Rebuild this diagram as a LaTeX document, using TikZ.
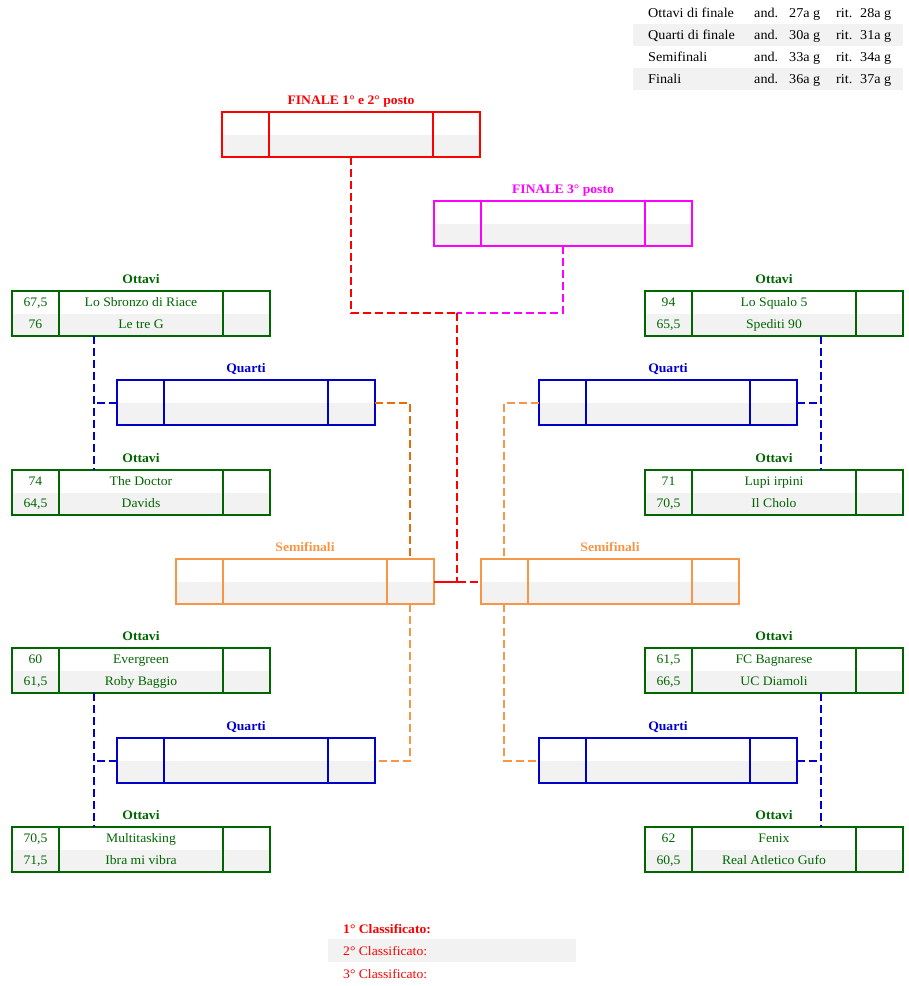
\documentclass[tikz,border=0pt]{standalone}
\usepackage{fontspec}
\setmainfont[FakeStretch=1.05]{Liberation Serif}
\usetikzlibrary{calc}
\definecolor{cgreen}{HTML}{006600}
\definecolor{cblue}{HTML}{0000CC}
\definecolor{corange}{HTML}{F79646}
\definecolor{cdorange}{HTML}{E46C0A}
\definecolor{cred}{HTML}{FF0000}
\definecolor{cmag}{HTML}{FF00FF}
\definecolor{cellgray}{HTML}{F2F2F2}
\tikzset{
  boxst/.style={minimum width=258pt, minimum height=45pt, inner sep=0pt, outer sep=0pt, line width=2pt},
  divst/.style={line width=2pt},
  conn/.style={line width=2pt, dash pattern=on 8pt off 4pt},
  cell/.style={inner sep=0pt, anchor=base, font=\fontsize{13}{15}\selectfont},
  ttl/.style={inner sep=0pt, anchor=base, font=\fontsize{13}{15}\selectfont\bfseries},
  tab/.style={inner sep=0pt, anchor=base west, font=\fontsize{13.5}{15}\selectfont},
}
% #1 name, #2 x, #3 y, #4 colour, #5 title, #6 s1, #7 t1, #8 s2, #9 t2
\newcommand\matchbox[9]{%
  \fill[cellgray] (#2,#3+22.5) rectangle (#2+258,#3+45);
  \node[boxst, draw=#4, anchor=north west] (#1) at (#2,#3) {};
  \draw[divst, #4] ($(#1.north west)+(47,0)$) -- ($(#1.south west)+(47,0)$);
  \draw[divst, #4] ($(#1.north east)+(-47,0)$) -- ($(#1.south east)+(-47,0)$);
  \node[ttl, text=#4] (#1-t) at (#2+129,#3-8) {#5};
  \node[cell, text=#4] (#1-a) at (#2+23.5,#3+15.5) {#6};
  \node[cell, text=#4] (#1-b) at (#2+129,#3+15.5) {#7};
  \node[cell, text=#4] (#1-c) at (#2+23.5,#3+37.5) {#8};
  \node[cell, text=#4] (#1-d) at (#2+129,#3+37.5) {#9};
}
\begin{document}
\begin{tikzpicture}[x=1pt, y=-1pt]
\useasboundingbox (0,0) rectangle (909,986);
% schedule table
\fill[cellgray] (633,24) rectangle (903,46);
\fill[cellgray] (633,68) rectangle (903,90);
\node[tab] (r1a) at (648,17.5) {Ottavi di finale};
\node[tab] (r1b) at (754,17.5) {and.};
\node[tab] (r1c) at (789,17.5) {27a g};
\node[tab] (r1d) at (836,17.5) {rit.};
\node[tab] (r1e) at (860,17.5) {28a g};
\node[tab] (r2a) at (648,39.5) {Quarti di finale};
\node[tab] (r2b) at (754,39.5) {and.};
\node[tab] (r2c) at (789,39.5) {30a g};
\node[tab] (r2d) at (836,39.5) {rit.};
\node[tab] (r2e) at (860,39.5) {31a g};
\node[tab] (r3a) at (648,61.5) {Semifinali};
\node[tab] (r3b) at (754,61.5) {and.};
\node[tab] (r3c) at (789,61.5) {33a g};
\node[tab] (r3d) at (836,61.5) {rit.};
\node[tab] (r3e) at (860,61.5) {34a g};
\node[tab] (r4a) at (648,83.5) {Finali};
\node[tab] (r4b) at (754,83.5) {and.};
\node[tab] (r4c) at (789,83.5) {36a g};
\node[tab] (r4d) at (836,83.5) {rit.};
\node[tab] (r4e) at (860,83.5) {37a g};
% finals
\matchbox{f1}{222}{112}{cred}{FINALE 1° e 2° posto}{}{}{}{}
\matchbox{f3}{434}{201}{cmag}{FINALE 3° posto}{}{}{}{}
% ottavi
\matchbox{o1}{12}{291}{cgreen}{Ottavi}{67,5}{Lo Sbronzo di Riace}{76}{Le tre G}
\matchbox{o2}{12}{470}{cgreen}{Ottavi}{74}{The Doctor}{64,5}{Davids}
\matchbox{o3}{12}{648}{cgreen}{Ottavi}{60}{Evergreen}{61,5}{Roby Baggio}
\matchbox{o4}{12}{827}{cgreen}{Ottavi}{70,5}{Multitasking}{71,5}{Ibra mi vibra}
\matchbox{o5}{645}{291}{cgreen}{Ottavi}{94}{Lo Squalo 5}{65,5}{Spediti 90}
\matchbox{o6}{645}{470}{cgreen}{Ottavi}{71}{Lupi irpini}{70,5}{Il Cholo}
\matchbox{o7}{645}{648}{cgreen}{Ottavi}{61,5}{FC Bagnarese}{66,5}{UC Diamoli}
\matchbox{o8}{645}{827}{cgreen}{Ottavi}{62}{Fenix}{60,5}{Real Atletico Gufo}
% quarti
\matchbox{q1}{117}{380}{cblue}{Quarti}{}{}{}{}
\matchbox{q2}{539}{380}{cblue}{Quarti}{}{}{}{}
\matchbox{q3}{117}{738}{cblue}{Quarti}{}{}{}{}
\matchbox{q4}{539}{738}{cblue}{Quarti}{}{}{}{}
% semifinali
\matchbox{s1}{176}{559}{corange}{Semifinali}{}{}{}{}
\matchbox{s2}{481}{559}{corange}{Semifinali}{}{}{}{}
% connectors: ottavi -> quarti
\coordinate (c1) at ($(o1.south west)+(82,0)$);
\draw[conn, cblue] (c1) -- (c1 |- o2.north);
\draw[conn, cblue] (q1.west) -- (q1.west -| c1);
\coordinate (c2) at ($(o3.south west)+(82,0)$);
\draw[conn, cblue] (c2) -- (c2 |- o4.north);
\draw[conn, cblue] (q3.west) -- (q3.west -| c2);
\coordinate (c3) at ($(o5.south east)+(-82,0)$);
\draw[conn, cblue] (c3) -- (c3 |- o6.north);
\draw[conn, cblue] (q2.east) -- (q2.east -| c3);
\coordinate (c4) at ($(o7.south east)+(-82,0)$);
\draw[conn, cblue] (c4) -- (c4 |- o8.north);
\draw[conn, cblue] (q4.east) -- (q4.east -| c4);
% quarti -> semifinali
\draw[conn, cdorange] (q1.east) -| ($(s1.north east)+(-24,0)$);
\draw[conn, corange] ($(s1.south east)+(-24,0)$) |- (q3.east);
\draw[conn, corange] (q2.west) -| ($(s2.north west)+(23,0)$);
\draw[conn, corange] ($(s2.south west)+(23,0)$) |- (q4.west);
% semifinali -> finals
\coordinate (m) at (457,313);
\draw[conn, cred] (f1.south) |- (m);
\draw[conn, cmag] (f3.south) |- (m);
\draw[conn, cred] (m) |- (s1.east);
\draw[conn, cred] (s1.east) -- (s2.west);
% classification
\fill[cellgray] (328,939) rectangle (576,962);
\node[tab, text=cred, font=\fontsize{13}{15}\selectfont\bfseries] (k1) at (343,933.5) {1° Classificato:};
\node[tab, text=cred, font=\fontsize{13}{15}\selectfont] (k2) at (343,955.5) {2° Classificato:};
\node[tab, text=cred, font=\fontsize{13}{15}\selectfont] (k3) at (343,978.5) {3° Classificato:};
\end{tikzpicture}
\end{document}
